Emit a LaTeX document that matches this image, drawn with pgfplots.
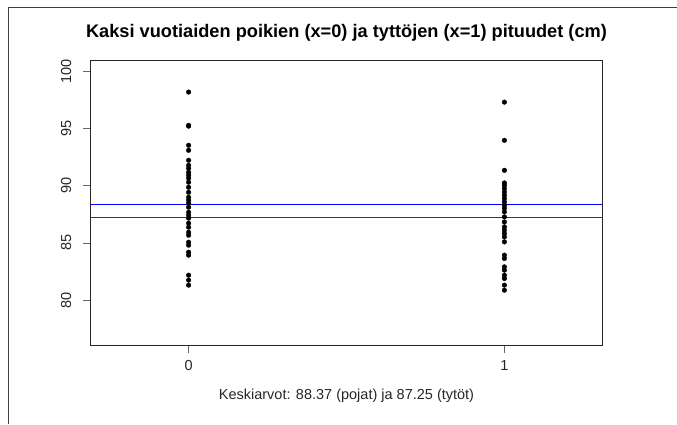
\documentclass[border=0pt]{standalone}
\usepackage{fontspec}
\setmainfont{Liberation Sans}
\usepackage{pgfplots}
\pgfplotsset{compat=1.18}
\begin{document}
\begin{tikzpicture}[x=1pt,y=1pt]
\useasboundingbox (0,0) rectangle (677,424);
\draw[line width=1pt, black!75] (8,0) -- (8,416) -- (677,416);
\node[font=\fontsize{18.2}{21}\selectfont\bfseries] at (346.5,391) {Kaksi vuotiaiden poikien (x=0) ja tyttöjen (x=1) pituudet (cm)};
\node[font=\fontsize{14.5}{17}\selectfont, text=black!85] at (346.5,28) {Keskiarvot: 88.37 (pojat) ja 87.25 (tytöt)};
\begin{axis}[
  at={(90.7pt,79pt)}, anchor=south west,
  scale only axis, width=511.6pt, height=284.3pt,
  xmin=-0.31, xmax=1.31, ymin=76.08, ymax=100.92,
  xtick={0,1}, ytick={80,85,90,95,100},
  xtick pos=left, ytick pos=left,
  tick align=outside, major tick length=8pt,
  tick style={black!60, line width=0.8pt},
  axis line style={black!85, line width=0.9pt},
  /pgf/number format/assume math mode=true,
  ticklabel style={font=\fontsize{14.5}{17}\selectfont, text=black!85},
  yticklabel style={rotate=90, anchor=south, yshift=8pt},
  xticklabel style={yshift=-4pt},
  clip=false,
]
\addplot[only marks, mark=*, mark size=2.3pt, black] coordinates {
(0,98.18)(0,95.27)(0,95.20)(0,93.53)(0,93.09)(0,92.22)(0,91.78)(0,91.52)(0,91.17)(0,90.91)
(0,90.65)(0,90.30)(0,89.86)(0,89.42)(0,88.99)(0,88.73)(0,88.46)(0,88.12)(0,87.68)(0,87.42)
(0,87.16)(0,86.72)(0,86.37)(0,85.93)(0,85.67)(0,85.06)(0,84.80)(0,84.19)(0,83.93)(0,82.18)
(0,81.75)(0,81.31)
};
\addplot[only marks, mark=*, mark size=2.3pt, black] coordinates {
(1,97.30)(1,93.96)(1,91.34)(1,90.24)(1,90.03)(1,89.75)(1,89.45)(1,89.16)(1,88.87)(1,88.58)
(1,88.29)(1,88.03)(1,87.71)(1,87.27)(1,86.83)(1,86.40)(1,86.11)(1,85.82)(1,85.52)(1,85.09)
(1,83.93)(1,83.64)(1,82.91)(1,82.62)(1,82.18)(1,81.89)(1,81.31)(1,80.87)
};
\addplot[blue, line width=0.7pt] coordinates {(-0.31,88.37)(1.31,88.37)};
\addplot[red!75!black, line width=0.7pt] coordinates {(-0.31,87.25)(1.31,87.25)};
\end{axis}
\end{tikzpicture}
\end{document}
